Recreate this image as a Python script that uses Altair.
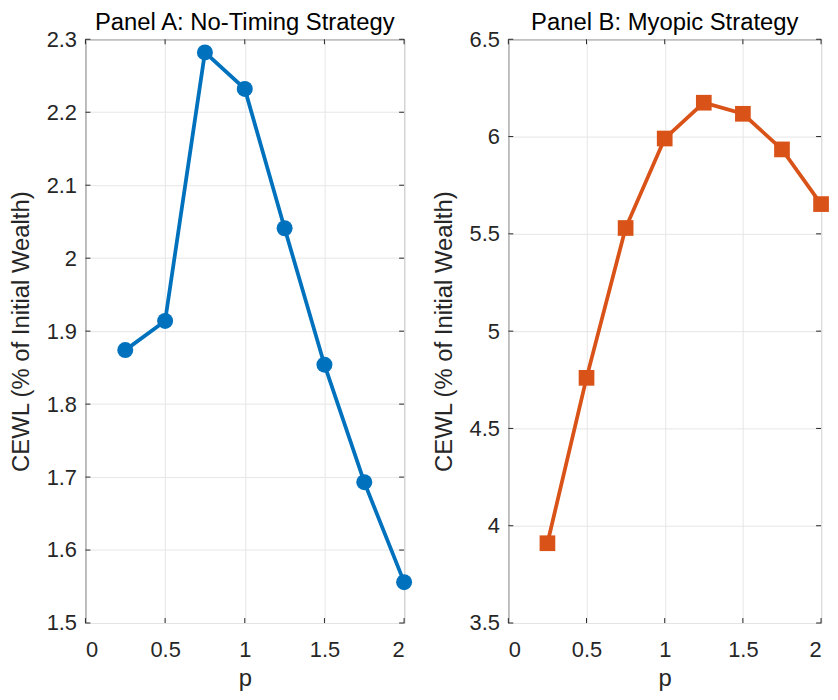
import altair as alt
import pandas as pd

# ---- data ----
p_vals = [0.25, 0.5, 0.75, 1.0, 1.25, 1.5, 1.75, 2.0]
cewl_no_timing = [1.874, 1.914, 2.282, 2.232, 2.041, 1.854, 1.693, 1.556]
cewl_myopic = [3.91, 4.76, 5.53, 5.99, 6.174, 6.117, 5.934, 5.653]
x_ticks = [0, 0.5, 1, 1.5, 2]
y_ticks_a = [1.5, 1.6, 1.7, 1.8, 1.9, 2.0, 2.1, 2.2, 2.3]
y_ticks_b = [3.5, 4.0, 4.5, 5.0, 5.5, 6.0, 6.5]

H = 588
TL = 5  # inward tick length
AX = "#262626"
FONT = "Liberation Sans"


def panel(values, yticks, ydom, color, shape, size, title, W):
    df = pd.DataFrame({"p": p_vals, "v": values})
    xs = alt.Scale(domain=[0, 2], nice=False, zero=False)
    ys = alt.Scale(domain=ydom, nice=False, zero=False)
    xaxis = alt.Axis(values=x_ticks, format="~g", title="p")
    yaxis = alt.Axis(values=yticks, format="~g", title="CEWL (% of Initial Wealth)")
    X = lambda: alt.X("p:Q", scale=xs, axis=xaxis)
    Y = lambda: alt.Y("v:Q", scale=ys, axis=yaxis)
    base = alt.Chart(df).encode(x=X(), y=Y())
    line = base.mark_line(color=color, strokeWidth=3.8)
    pts = base.mark_point(shape=shape, filled=True, size=size, color=color, opacity=1)

    xt = pd.DataFrame({"p": x_ticks})
    yt = pd.DataFrame({"v": yticks})
    top = alt.Chart(xt).mark_rule(color=AX, strokeWidth=1).encode(
        x=X(), y=alt.value(0), y2=alt.value(TL))
    bot = alt.Chart(xt).mark_rule(color=AX, strokeWidth=1).encode(
        x=X(), y=alt.value(H - TL), y2=alt.value(H))
    lft = alt.Chart(yt).mark_rule(color=AX, strokeWidth=1).encode(
        y=Y(), x=alt.value(0), x2=alt.value(TL))
    rgt = alt.Chart(yt).mark_rule(color=AX, strokeWidth=1).encode(
        y=Y(), x=alt.value(W - TL), x2=alt.value(W))

    return alt.layer(line, pts, top, bot, lft, rgt).properties(
        width=W, height=H,
        title=alt.TitleParams(title, fontSize=24, font=FONT, fontWeight="normal",
                              color="#000000", offset=-7, frame="group"),
    )


pa = panel(cewl_no_timing, y_ticks_a, [1.5, 2.3], "#0072BD", "circle", 260,
           "Panel A: No-Timing Strategy", 321)
pb = panel(cewl_myopic, y_ticks_b, [3.5, 6.5], "#D95319", "square", 250,
           "Panel B: Myopic Strategy", 315)

chart = alt.hconcat(pa, pb, spacing=18).configure(padding=0).configure_view(
    stroke=AX, strokeWidth=1
).configure_axis(
    domain=False, ticks=False, grid=True, gridColor="#e6e6e6", gridWidth=1,
    labelFont=FONT, labelFontSize=22, labelColor=AX, labelPadding=9,
    titleFont=FONT, titleFontSize=24, titleColor=AX, titleFontWeight="normal",
).configure_axisX(labelPadding=17, titlePadding=6).configure_axisY(titlePadding=13)

chart.save("out.html", embed_options={"renderer": "svg", "actions": False})
